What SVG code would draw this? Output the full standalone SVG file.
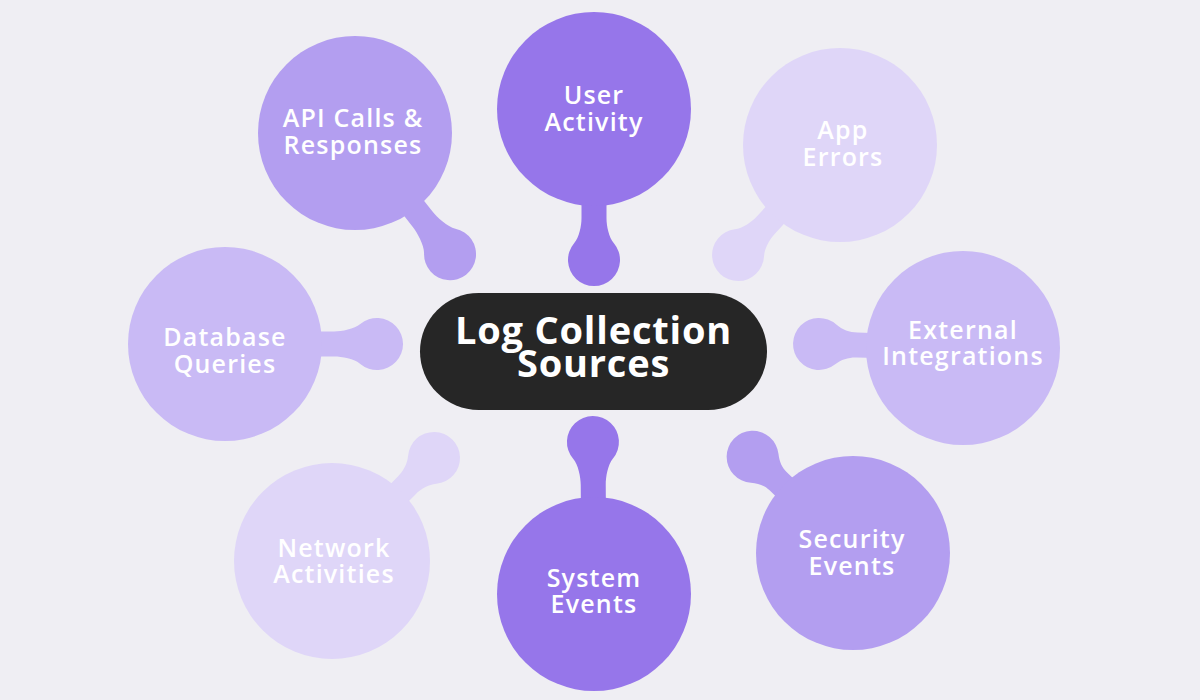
<svg xmlns="http://www.w3.org/2000/svg" width="1200" height="700" viewBox="0 0 1200 700">
  <style>
    .c1 { fill: #9676ea; }
    .c2 { fill: #b39ef0; }
    .c3 { fill: #c9baf5; }
    .c4 { fill: #dfd6f8; }
    .lbl { font-family: "Open Sans", "Liberation Sans", sans-serif; font-weight: 600; font-size: 25px; letter-spacing: 1.2px; fill: #ffffff; text-anchor: middle; }
    .title { font-family: "Open Sans", "Liberation Sans", sans-serif; font-weight: 700; font-size: 38px; letter-spacing: 0.8px; fill: #ffffff; text-anchor: middle; }
  </style>
  <rect x="0" y="0" width="1200" height="700" fill="#efeef3"/>

  <g id="connectors">
    <path class="c1" transform="translate(594,109) rotate(90)" d="M85 -12.5 L109 -12.5 C117 -12.5 128.2 -14.8 134.3 -19.9 A26 26 0 1 1 134.3 19.9 C128.2 14.8 117 12.5 109 12.5 L85 12.5 Z"/>
    <path class="c2" transform="translate(355,133) rotate(51.9)" d="M85 -12.5 L109 -12.5 C117 -12.5 131.2 -14.8 137.3 -19.9 A26 26 0 1 1 137.3 19.9 C131.2 14.8 117 12.5 109 12.5 L85 12.5 Z"/>
    <path class="c4" transform="translate(840,145) rotate(132.8)" d="M85 -12.5 L109 -12.5 C117 -12.5 127.2 -14.8 133.3 -19.9 A26 26 0 1 1 133.3 19.9 C127.2 14.8 117 12.5 109 12.5 L85 12.5 Z"/>
    <path class="c3" transform="translate(225,344) rotate(0)" d="M85 -12.5 L109 -12.5 C117 -12.5 129.2 -14.8 135.3 -19.9 A26 26 0 1 1 135.3 19.9 C129.2 14.8 117 12.5 109 12.5 L85 12.5 Z"/>
    <path class="c3" transform="translate(963,348) rotate(181.6)" d="M85 -12.5 L106 -12.5 C114 -12.5 121.2 -14.8 127.3 -19.9 A26 26 0 1 1 127.3 19.9 C121.2 14.8 114 12.5 106 12.5 L85 12.5 Z"/>
    <path class="c4" transform="translate(332,561) rotate(-45.3)" d="M85 -12.5 L106 -12.5 C114 -12.5 122.2 -14.8 128.3 -19.9 A26 26 0 1 1 128.3 19.9 C122.2 14.8 114 12.5 106 12.5 L85 12.5 Z"/>
    <path class="c1" transform="translate(594,594) rotate(-90.4)" d="M85 -12.5 L109 -12.5 C117 -12.5 129.2 -14.8 135.3 -19.9 A26 26 0 1 1 135.3 19.9 C129.2 14.8 117 12.5 109 12.5 L85 12.5 Z"/>
    <path class="c2" transform="translate(853,553) rotate(-136.2)" d="M85 -12.5 L104 -12.5 C110 -12.5 116.2 -14.8 122.3 -19.9 A26 26 0 1 1 122.3 19.9 C116.2 14.8 110 12.5 104 12.5 L85 12.5 Z"/>
  </g>

  <g id="node-user-activity">
    <circle class="c1" cx="594" cy="109" r="97"/>
    <text class="lbl"><tspan x="594" y="104">User</tspan><tspan x="594" y="131">Activity</tspan></text>
  </g>
  <g id="node-api-calls">
    <circle class="c2" cx="355" cy="133" r="97"/>
    <text class="lbl"><tspan x="353" y="127">API Calls &amp;</tspan><tspan x="353" y="154">Responses</tspan></text>
  </g>
  <g id="node-app-errors">
    <circle class="c4" cx="840" cy="145" r="97"/>
    <text class="lbl"><tspan x="843" y="139">App</tspan><tspan x="843" y="166">Errors</tspan></text>
  </g>
  <g id="node-database-queries">
    <circle class="c3" cx="225" cy="344" r="97"/>
    <text class="lbl"><tspan x="225" y="346">Database</tspan><tspan x="225" y="373">Queries</tspan></text>
  </g>
  <g id="node-external-integrations">
    <circle class="c3" cx="963" cy="348" r="97"/>
    <text class="lbl"><tspan x="963" y="339">External</tspan><tspan x="963" y="365">Integrations</tspan></text>
  </g>
  <g id="node-network-activities">
    <circle class="c4" cx="332" cy="561" r="98"/>
    <text class="lbl"><tspan x="334" y="557">Network</tspan><tspan x="334" y="583">Activities</tspan></text>
  </g>
  <g id="node-system-events">
    <circle class="c1" cx="594" cy="594" r="97"/>
    <text class="lbl"><tspan x="594" y="587">System</tspan><tspan x="594" y="613">Events</tspan></text>
  </g>
  <g id="node-security-events">
    <circle class="c2" cx="853" cy="553" r="97"/>
    <text class="lbl"><tspan x="852" y="548">Security</tspan><tspan x="852" y="575">Events</tspan></text>
  </g>

  <g id="node-center">
    <rect x="420" y="293" width="347" height="117" rx="58.5" fill="#262626"/>
    <text class="title"><tspan x="593.5" y="344">Log Collection</tspan><tspan x="593.5" y="377">Sources</tspan></text>
  </g>
</svg>
